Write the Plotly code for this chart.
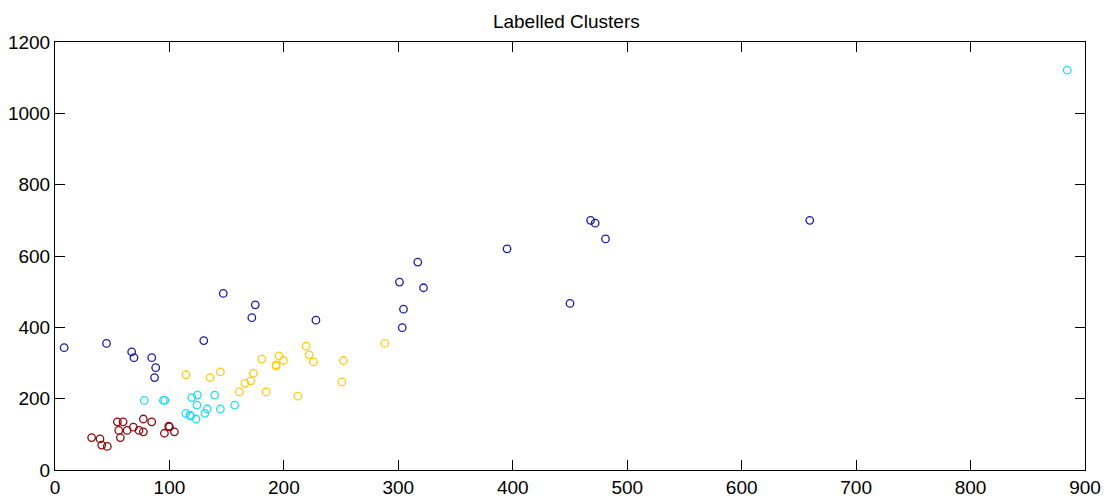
import plotly.graph_objects as go

blue_x = [8, 45, 67, 69, 84.5, 88, 87, 130, 147, 172, 175, 228, 301, 303.4, 304.5, 317, 322, 395, 450, 468, 472, 481, 659.5]
blue_y = [343, 355, 331, 315, 315, 287, 259, 363, 495, 427, 463, 420, 527, 399, 451, 583, 511, 620, 467, 700, 692, 648, 700]

cyan_x = [78, 94.7, 96, 114.3, 118, 118.5, 119.5, 123.3, 124, 124.4, 131, 133, 139.6, 144.5, 157, 884.5]
cyan_y = [195, 195, 195, 159, 154, 151, 203, 143, 182, 210, 159, 171, 210, 171, 182, 1121]

yellow_x = [114.5, 135.5, 144.5, 161, 166, 171, 173.4, 180.7, 184.5, 193.2, 193.2, 195.8, 199.6, 212.2, 219.4, 222.1, 225.8, 250.6, 252, 288.2]
yellow_y = [267, 259, 275, 219, 243, 250, 271, 311, 219, 291, 295, 320, 307, 207, 347, 323, 303, 247, 307, 355]

red_x = [32, 39.3, 40.8, 45.7, 54.5, 59.5, 55.7, 57.1, 63, 68.5, 73.4, 77.2, 77.2, 84.5, 99.4, 100, 95.6, 104.3]
red_y = [91, 87, 70, 66, 135, 135, 111, 91, 111, 120, 111, 107, 143, 135, 123, 121, 103, 107]

series = [
    (blue_x, blue_y, "#1a1aa8"),
    (cyan_x, cyan_y, "#22ddf5"),
    (yellow_x, yellow_y, "#ffcc11"),
    (red_x, red_y, "#8b0a0a"),
]

fig = go.Figure()
for xs, ys, col in series:
    fig.add_trace(go.Scatter(
        x=xs, y=ys, mode="markers",
        marker=dict(symbol="circle-open", size=7.5, color=col, line=dict(width=1.3, color=col)),
        showlegend=False,
    ))

axis_common = dict(
    automargin=False,
    showgrid=False, zeroline=False, showline=True, linecolor="black", linewidth=1,
    mirror="ticks", ticks="inside", ticklen=10, tickcolor="black", tickwidth=1,
    tickfont=dict(family="Liberation Sans, Arial", size=19, color="black"),
)

fig.update_layout(
    width=1110, height=502,
    margin=dict(l=47, r=33, t=34, b=40),
    paper_bgcolor="white", plot_bgcolor="white",
    title=dict(text="Labelled Clusters", x=0.503, xanchor="center", y=0.974, yanchor="middle",
               font=dict(family="Liberation Sans, Arial", size=19, color="black")),
    xaxis=dict(range=[0, 900], dtick=100, tick0=0, **axis_common),
    yaxis=dict(range=[0, 1200], dtick=200, tick0=0, **axis_common),
)

fig.write_html("out.html")
